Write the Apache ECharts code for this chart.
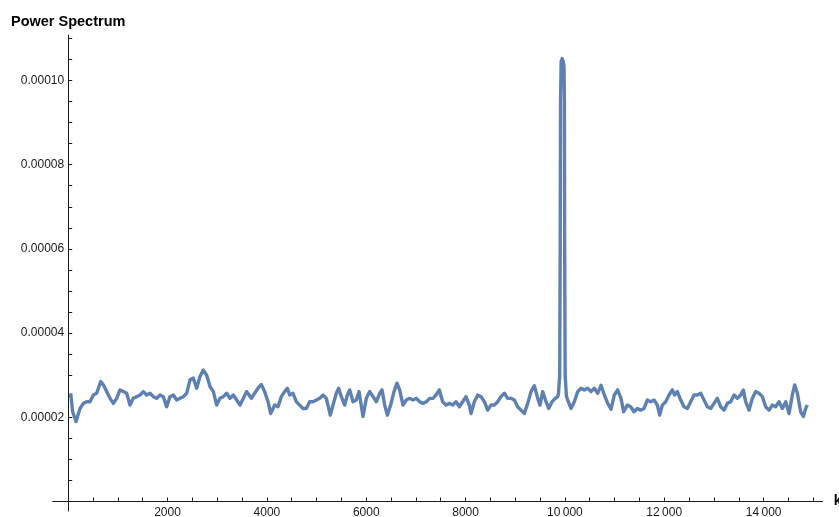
<!DOCTYPE html>
<html>
<head>
<meta charset="utf-8">
<script src="https://cdn.jsdelivr.net/npm/echarts@6/dist/echarts.min.js"></script>
<style>
  html, body { margin: 0; padding: 0; background: #fff; }
  #chart { width: 839px; height: 517px; }
</style>
</head>
<body>
<div id="chart"></div>
<script>
// Wave number k (x) and power spectrum (y)
const kValues = [
  50, 90, 157, 238, 305, 372, 439, 506, 573, 654, 707, 774, 842, 909, 976, 1043, 1110, 1177, 1244, 1311,
  1378, 1446, 1513, 1580, 1647, 1714, 1781, 1848, 1915, 1982, 2049, 2116, 2184, 2251, 2318, 2385, 2452, 2519, 2586, 2653,
  2720, 2788, 2855, 2922, 2989, 3056, 3123, 3190, 3257, 3324, 3392, 3459, 3526, 3593,
  3687, 3754, 3821, 3888, 3955, 4023, 4076, 4157, 4224, 4291, 4358, 4412, 4459, 4526, 4593, 4660, 4727, 4794, 4862, 4929,
  4996, 5063, 5130, 5197, 5277, 5331, 5398, 5445, 5499, 5566, 5620, 5667, 5734, 5801, 5855, 5935, 6002, 6070, 6137, 6204,
  6271, 6318, 6372, 6425, 6492, 6559, 6620, 6673, 6740, 6808, 6875, 6942, 7009, 7076, 7143, 7210, 7277, 7344,
  7405, 7472, 7539, 7606, 7673, 7741, 7808, 7875, 7942, 8009, 8076, 8110, 8177, 8244, 8311, 8378, 8445, 8512, 8579, 8646,
  8714, 8781, 8848, 8915, 8982, 9049, 9116, 9183, 9251, 9318, 9385, 9452, 9499, 9553, 9620, 9673, 9740, 9807, 9854,
  9870, 9895, 9905, 9912, 9925, 9945, 9965, 9982, 9990, 9995, 10005, 10030,
  10056, 10123, 10190, 10257, 10324, 10391, 10458, 10525, 10593, 10660, 10727, 10794, 10861, 10928, 10995, 11062, 11129, 11183,
  11257, 11324, 11391, 11458, 11525, 11593, 11660, 11727, 11794, 11861, 11908, 11962, 12029, 12096, 12163, 12210, 12264, 12331,
  12398, 12465, 12532, 12599, 12666, 12733, 12801, 12868, 12935, 13002, 13069, 13136, 13203, 13270, 13337, 13405, 13472, 13539,
  13592, 13639, 13707, 13774, 13841, 13908, 13975, 14042, 14109, 14176, 14243, 14311, 14378, 14445, 14512, 14579, 14626, 14680,
  14747, 14801, 14847, 14881
];
const powerValues = [
  25.7e-6, 21.3e-6, 19.0e-6, 22.1e-6, 23.3e-6, 23.7e-6, 23.7e-6, 25.3e-6, 25.7e-6, 28.5e-6, 27.7e-6, 26.1e-6, 24.5e-6, 23.3e-6, 24.5e-6, 26.5e-6, 26.1e-6, 25.7e-6, 22.9e-6, 24.5e-6,
  24.9e-6, 25.3e-6, 26.1e-6, 25.3e-6, 25.7e-6, 24.9e-6, 24.5e-6, 25.3e-6, 24.9e-6, 22.5e-6, 24.9e-6, 25.3e-6, 24.1e-6, 24.5e-6, 24.9e-6, 25.7e-6, 28.9e-6, 29.3e-6, 26.9e-6, 29.7e-6,
  31.2e-6, 30.0e-6, 27.3e-6, 26.1e-6, 22.9e-6, 24.5e-6, 24.9e-6, 25.7e-6, 24.5e-6, 25.3e-6, 24.1e-6, 22.9e-6, 24.5e-6, 26.1e-6,
  24.5e-6, 25.7e-6, 26.9e-6, 27.8e-6, 26.1e-6, 23.7e-6, 20.9e-6, 22.9e-6, 22.5e-6, 24.9e-6, 26.1e-6, 26.9e-6, 25.3e-6, 25.7e-6, 23.7e-6, 22.9e-6, 22.1e-6, 22.1e-6, 23.7e-6, 23.7e-6,
  24.1e-6, 24.5e-6, 25.3e-6, 24.5e-6, 20.5e-6, 22.9e-6, 25.7e-6, 26.9e-6, 24.9e-6, 22.9e-6, 25.3e-6, 26.5e-6, 23.7e-6, 24.1e-6, 26.1e-6, 20.2e-6, 24.5e-6, 26.1e-6, 24.9e-6, 23.7e-6,
  25.7e-6, 26.5e-6, 22.9e-6, 20.5e-6, 22.9e-6, 26.1e-6, 28.1e-6, 26.5e-6, 22.9e-6, 24.1e-6, 24.5e-6, 24.1e-6, 24.5e-6, 23.7e-6, 23.3e-6, 23.7e-6, 24.5e-6, 24.5e-6,
  25.3e-6, 26.5e-6, 23.7e-6, 22.9e-6, 23.3e-6, 22.9e-6, 23.7e-6, 22.5e-6, 23.7e-6, 24.9e-6, 22.9e-6, 20.9e-6, 23.7e-6, 25.3e-6, 24.9e-6, 23.7e-6, 21.7e-6, 22.9e-6, 22.9e-6, 23.7e-6,
  24.9e-6, 25.7e-6, 24.5e-6, 24.5e-6, 24.1e-6, 22.5e-6, 21.7e-6, 20.9e-6, 23.3e-6, 26.1e-6, 27.5e-6, 24.5e-6, 22.9e-6, 26.1e-6, 23.7e-6, 22.1e-6, 23.7e-6, 24.5e-6, 24.9e-6,
  25.5e-6, 30.0e-6, 60.0e-6, 95.0e-6, 104.5e-6, 105.2e-6, 104.5e-6, 103.5e-6, 95.0e-6, 60.0e-6, 30.0e-6, 25.0e-6,
  24.1e-6, 22.1e-6, 23.7e-6, 26.1e-6, 26.9e-6, 26.5e-6, 26.9e-6, 26.1e-6, 26.9e-6, 25.7e-6, 27.6e-6, 25.3e-6, 23.3e-6, 21.9e-6, 25.3e-6, 26.5e-6, 24.5e-6, 21.3e-6,
  22.9e-6, 22.5e-6, 21.3e-6, 22.1e-6, 21.7e-6, 22.1e-6, 24.1e-6, 23.7e-6, 24.1e-6, 22.9e-6, 20.5e-6, 22.9e-6, 23.7e-6, 25.3e-6, 26.5e-6, 25.3e-6, 26.1e-6, 24.1e-6,
  22.5e-6, 22.1e-6, 23.7e-6, 25.3e-6, 25.3e-6, 25.7e-6, 24.1e-6, 22.5e-6, 22.1e-6, 23.3e-6, 24.5e-6, 22.5e-6, 21.7e-6, 23.3e-6, 23.7e-6, 25.3e-6, 24.5e-6, 25.3e-6,
  26.5e-6, 23.7e-6, 21.7e-6, 24.5e-6, 26.1e-6, 25.7e-6, 24.9e-6, 22.5e-6, 21.7e-6, 22.9e-6, 22.5e-6, 23.7e-6, 22.1e-6, 23.7e-6, 20.9e-6, 25.3e-6, 27.7e-6, 25.7e-6,
  21.3e-6, 20.2e-6, 22.1e-6, 22.9e-6
];

// Axis ticks and labels
const xTickValues = [500, 1000, 1500, 2000, 2500, 3000, 3500, 4000, 4500, 5000, 5500, 6000, 6500, 7000, 7500,
  8000, 8500, 9000, 9500, 10000, 10500, 11000, 11500, 12000, 12500, 13000, 13500, 14000, 14500, 15000];
const xLabelValues = [2000, 4000, 6000, 8000, 10000, 12000, 14000];
const xLabelTexts = ['2000', '4000', '6000', '8000', '10\u2009000', '12\u2009000', '14\u2009000'];
const yTickValues = [0.000005, 0.00001, 0.000015, 0.00002, 0.000025, 0.00003, 0.000035, 0.00004, 0.000045, 0.00005,
  0.000055, 0.00006, 0.000065, 0.00007, 0.000075, 0.00008, 0.000085, 0.00009, 0.000095, 0.0001, 0.000105, 0.00011];
const yLabelValues = [0.00002, 0.00004, 0.00006, 0.00008, 0.0001];
const yLabelTexts = ['0.00002', '0.00004', '0.00006', '0.00008', '0.00010'];

// the value axis works in units of 1e-6 to avoid precision rounding of tiny numbers
const UNIT = 1e-6;
const toU = (v) => Math.round(v / UNIT * 1e6) / 1e6;
const seriesData = kValues.map((k, i) => [k, toU(powerValues[i])]);

const axisColor = '#1a1a1a';
const labelFont = { fontFamily: 'Liberation Sans, Arial, sans-serif', fontSize: 12, color: '#1a1a1a' };

const chart = echarts.init(document.getElementById('chart'), null, { renderer: 'canvas' });
chart.setOption({
  animation: false,
  backgroundColor: '#ffffff',
  grid: { left: 52.7, right: 16.3, top: 35, bottom: 6, containLabel: false, outerBoundsMode: 'none' },
  xAxis: {
    type: 'value',
    min: -312,
    max: 15190,
    offset: -9.5,
    name: 'k',
    nameLocation: 'end',
    nameGap: 11,
    nameTextStyle: { fontFamily: 'Liberation Sans, Arial, sans-serif', fontSize: 14, fontWeight: 'bold', color: '#000', verticalAlign: 'middle' },
    axisLine: { show: true, onZero: false, lineStyle: { color: axisColor, width: 1 } },
    axisTick: { show: true, inside: true, length: 4, customValues: xTickValues, lineStyle: { color: axisColor, width: 1 } },
    axisLabel: {
      show: true, margin: 5, customValues: xLabelValues, ...labelFont,
      formatter: (v) => { const i = xLabelValues.indexOf(v); return i >= 0 ? xLabelTexts[i] : ''; }
    },
    splitLine: { show: false }
  },
  yAxis: {
    type: 'value',
    min: -2.26,
    max: 110.8,
    offset: -15.5,
    name: 'Power Spectrum',
    nameLocation: 'end',
    nameGap: 6,
    nameTextStyle: { fontFamily: 'Liberation Sans, Arial, sans-serif', fontSize: 14.5, fontWeight: 'bold', color: '#000', align: 'center' },
    axisLine: { show: true, onZero: false, lineStyle: { color: axisColor, width: 1 } },
    axisTick: { show: true, inside: true, length: 4, customValues: yTickValues.map(toU), lineStyle: { color: axisColor, width: 1 } },
    axisLabel: {
      show: true, margin: 4, customValues: yLabelValues.map(toU), ...labelFont,
      formatter: (v) => { const i = yLabelValues.findIndex(t => Math.abs(toU(t) - v) < 1e-6); return i >= 0 ? yLabelTexts[i] : ''; }
    },
    splitLine: { show: false }
  },
  series: [{
    type: 'line',
    data: seriesData,
    showSymbol: false,
    smooth: false,
    lineStyle: { color: '#5E81B5', width: 3.4, join: 'round' },
    itemStyle: { color: '#5E81B5' },
    clip: true
  }]
});
</script>
</body>
</html>
